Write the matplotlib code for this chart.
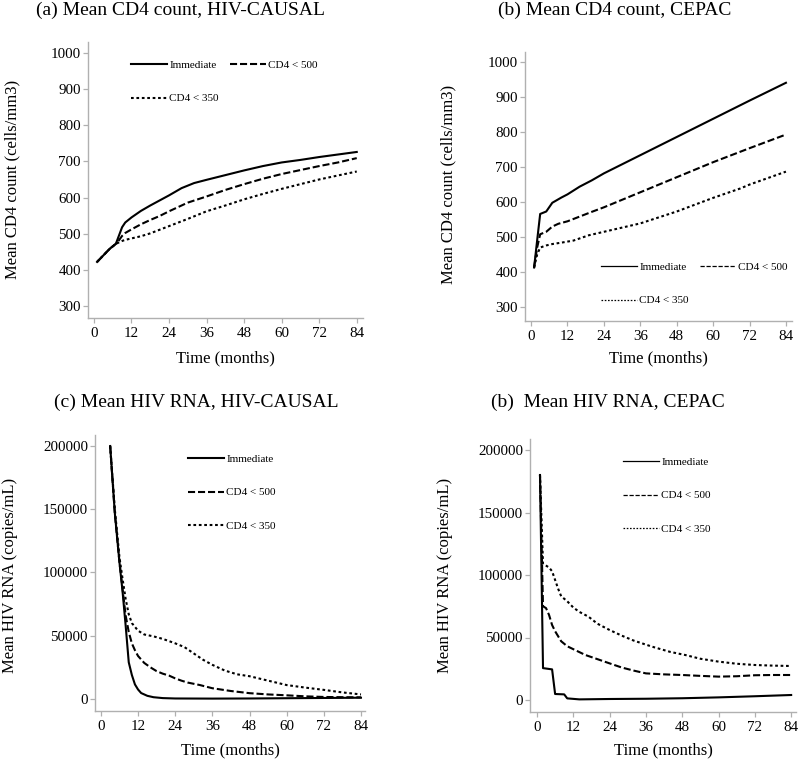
import matplotlib
matplotlib.use('Agg')
import matplotlib.pyplot as plt
from matplotlib.lines import Line2D

plt.rcParams['font.family'] = ['Liberation Serif', 'DejaVu Serif']

# (a) mean CD4, HIV-CAUSAL
a_imm_t = [1, 3, 5, 7, 8, 9, 10, 12, 15, 18, 21, 24, 28, 32, 36, 42, 48, 54, 60, 66, 72, 78, 84]
a_imm_v = [422, 440, 458, 472, 495, 518, 531, 545, 563, 578, 592, 606, 626, 640, 649, 662, 675, 687, 697, 704, 712, 719, 726]
a_500_t = [1, 3, 5, 7, 8, 9, 10, 12, 15, 18, 21, 24, 30, 36, 42, 48, 54, 60, 66, 72, 78, 84]
a_500_v = [422, 440, 458, 472, 482, 494, 502, 512, 526, 538, 549, 562, 586, 603, 621, 637, 652, 665, 676, 687, 697, 709]
a_350_t = [1, 3, 5, 7, 8, 9, 10, 12, 15, 18, 21, 24, 30, 36, 42, 48, 54, 60, 66, 72, 78, 84]
a_350_v = [422, 440, 458, 472, 476, 480, 483, 487, 493, 501, 511, 521, 541, 562, 578, 595, 610, 624, 637, 650, 661, 672]

# (b) mean CD4, CEPAC
b_imm_t = [1, 2, 3, 5, 7, 10, 12, 16, 20, 24, 36, 48, 60, 72, 84]
b_imm_v = [413, 490, 566, 573, 598, 613, 622, 644, 662, 682, 734, 786, 838, 890, 941]
b_500_t = [1, 2, 3, 5, 7, 9, 12, 20, 24, 36, 48, 60, 72, 84]
b_500_v = [413, 470, 508, 515, 530, 538, 545, 572, 585, 628, 671, 714, 754, 793]
b_350_t = [1, 2, 3, 5, 7, 10, 14, 19, 24, 36, 48, 60, 69, 72, 84]
b_350_v = [413, 450, 470, 476, 480, 484, 490, 505, 515, 539, 573, 612, 639, 650, 687]

# (c) mean HIV RNA, HIV-CAUSAL
c_imm_t = [3, 4.5, 6, 7, 8, 9, 10, 11, 12, 13, 15, 17, 20, 24, 36, 48, 60, 72, 84]
c_imm_v = [200000, 147000, 108000, 85000, 58000, 29000, 19000, 11500, 7500, 4700, 2500, 1400, 700, 400, 300, 400, 600, 800, 1000]
c_500_t = [3, 4.5, 6, 7, 8, 9, 10, 11, 12, 14, 16, 18, 20, 22, 24, 26, 28, 32, 36, 42, 48, 54, 60, 66, 72, 78, 84]
c_500_v = [200000, 147000, 108000, 87000, 66000, 53000, 44000, 38500, 34000, 28500, 25000, 22000, 20000, 18500, 16300, 14500, 13000, 11000, 8500, 6300, 4600, 3600, 2900, 2100, 1600, 1400, 1300]
c_350_t = [3, 4.5, 6, 7, 8, 9, 10, 12, 14, 17, 20, 24, 27, 30, 33, 36, 40, 44, 48, 54, 60, 66, 72, 78, 84]
c_350_v = [200000, 150000, 112000, 95000, 79000, 67000, 60000, 54000, 51000, 49500, 47500, 44000, 41000, 36000, 31000, 27000, 22500, 19500, 18000, 14500, 11000, 9000, 7200, 5200, 3600]

# (d) mean HIV RNA, CEPAC
d_imm_t = [1, 2, 5, 6, 9, 10, 14, 24, 36, 48, 60, 72, 84]
d_imm_v = [180000, 25500, 24500, 4800, 4500, 1300, 500, 800, 1000, 1400, 2100, 3000, 4000]
d_500_t = [1, 2, 3, 4, 5, 6, 8, 10, 13, 16, 19, 24, 28, 32, 36, 42, 48, 54, 60, 66, 72, 78, 84]
d_500_v = [180000, 75000, 73500, 68000, 60000, 55000, 47000, 43000, 39500, 36000, 33500, 29300, 26000, 23500, 21300, 20500, 20000, 19300, 18700, 19000, 19800, 20000, 20000]
d_350_t = [1, 2, 3, 4, 5, 6, 7, 8, 10, 12, 14, 17, 20, 24, 28, 32, 38, 44, 49, 54, 60, 66, 72, 78, 84]
d_350_v = [180000, 109000, 107500, 106000, 103000, 96000, 89000, 83000, 79000, 74000, 70500, 66700, 61000, 56000, 51500, 47500, 42700, 38500, 36000, 33000, 30700, 29000, 28000, 27500, 27200]

labels = ['Immediate', 'CD4 < 500', 'CD4 < 350']
month_ticks = [0, 12, 24, 36, 48, 60, 72, 84]
cd4_ticks = [300, 400, 500, 600, 700, 800, 900, 1000]
rna_ticks = [0, 50000, 100000, 150000, 200000]

W, H = 800, 761
GREY = '#b0b0b0'
LW = 1.5
STYLES = ['-', (0, (3.4, 1.4)), (0, (1.3, 1.3))]

fig = plt.figure(figsize=(W / 100, H / 100), dpi=100)


def make_axes(left, right, top, bottom):
    ax = fig.add_axes([left / W, 1 - bottom / H, (right - left) / W, (bottom - top) / H])
    for s in ['top', 'right']:
        ax.spines[s].set_visible(False)
    for s in ['left', 'bottom']:
        ax.spines[s].set_color(GREY)
        ax.spines[s].set_linewidth(1.0)
    ax.tick_params(colors=GREY, labelcolor='black', labelsize=10.8, length=3.6, width=0.9)
    ax.tick_params(axis='y', pad=1.5)
    ax.tick_params(axis='x', pad=3)
    return ax


def fig_text(x, y, s, **kw):
    fig.text(x / W, 1 - y / H, s, **kw)


def draw(ax, series, xlim, ylim, yticks, xlab_y, box):
    for (t, v), ls in zip(series, STYLES):
        ax.plot(t, v, color='black', lw=LW, linestyle=ls)
    ax.set_xlim(*xlim)
    ax.set_ylim(*ylim)
    ax.set_xticks(month_ticks)
    ax.set_yticks(yticks)
    left, right, top, bottom = box
    ax.set_xlabel('Time (months)', fontsize=12, va='center')
    ax.xaxis.set_label_coords(0.5, -(xlab_y - bottom) / (bottom - top))
    return ax


def add_legend(ax, x, y, ncol, thin):
    lw = 0.9 if thin else LW
    hs = [Line2D([], [], color='black', lw=lw, linestyle=ls) for ls in STYLES]
    if ncol == 2:
        hs = [hs[0], hs[2], hs[1]]
        labs = [labels[0], labels[2], labels[1]]
    else:
        labs = labels
    ax.legend(hs, labs, loc='upper left', bbox_to_anchor=(x / W, 1 - y / H),
              bbox_transform=fig.transFigure, ncol=ncol, frameon=False,
              fontsize=8, borderpad=0, borderaxespad=0, handlelength=3.2,
              handletextpad=0.25, columnspacing=1.0, labelspacing=2.15)


# panel boxes in pixels: left, right, top, bottom
box_a = (88, 363, 42, 318)
box_b = (525, 792, 52, 321)
box_c = (95, 365, 435, 711)
box_d = (530, 796, 439, 712)

ax = make_axes(*box_a)
draw(ax, [(a_imm_t, a_imm_v), (a_500_t, a_500_v), (a_350_t, a_350_v)],
     (-1.9, 86.0), (267, 1030), cd4_ticks, 358, box_a)
add_legend(ax, 131, 60, 2, False)
fig_text(12, 179, 'Mean CD4 count (cells/mm3)', rotation=90, ha='center', va='center', fontsize=12)
fig_text(180, 10, '(a) Mean CD4 count, HIV-CAUSAL', ha='center', va='center', fontsize=14)

ax = make_axes(*box_b)
draw(ax, [(b_imm_t, b_imm_v), (b_500_t, b_500_v), (b_350_t, b_350_v)],
     (-2.0, 86.0), (260, 1029), cd4_ticks, 358, box_b)
add_legend(ax, 601, 262, 2, True)
fig_text(448, 184, 'Mean CD4 count (cells/mm3)', rotation=90, ha='center', va='center', fontsize=12)
fig_text(615, 10, '(b) Mean CD4 count, CEPAC', ha='center', va='center', fontsize=14)

ax = make_axes(*box_c)
draw(ax, [(c_imm_t, c_imm_v), (c_500_t, c_500_v), (c_350_t, c_350_v)],
     (-1.9, 85.3), (-9500, 208700), rna_ticks, 750, box_c)
add_legend(ax, 188, 454, 1, False)
fig_text(10, 575, 'Mean HIV RNA (copies/mL)', rotation=90, ha='center', va='center', fontsize=12)
fig_text(196, 402, '(c) Mean HIV RNA, HIV-CAUSAL', ha='center', va='center', fontsize=14)

ax = make_axes(*box_d)
draw(ax, [(d_imm_t, d_imm_v), (d_500_t, d_500_v), (d_350_t, d_350_v)],
     (-2.3, 85.6), (-9600, 208800), rna_ticks, 750, box_d)
add_legend(ax, 623, 457, 1, True)
fig_text(445, 575, 'Mean HIV RNA (copies/mL)', rotation=90, ha='center', va='center', fontsize=12)
fig_text(608, 402, '(b)  Mean HIV RNA, CEPAC', ha='center', va='center', fontsize=14)

fig.savefig('out.png', dpi=100)
